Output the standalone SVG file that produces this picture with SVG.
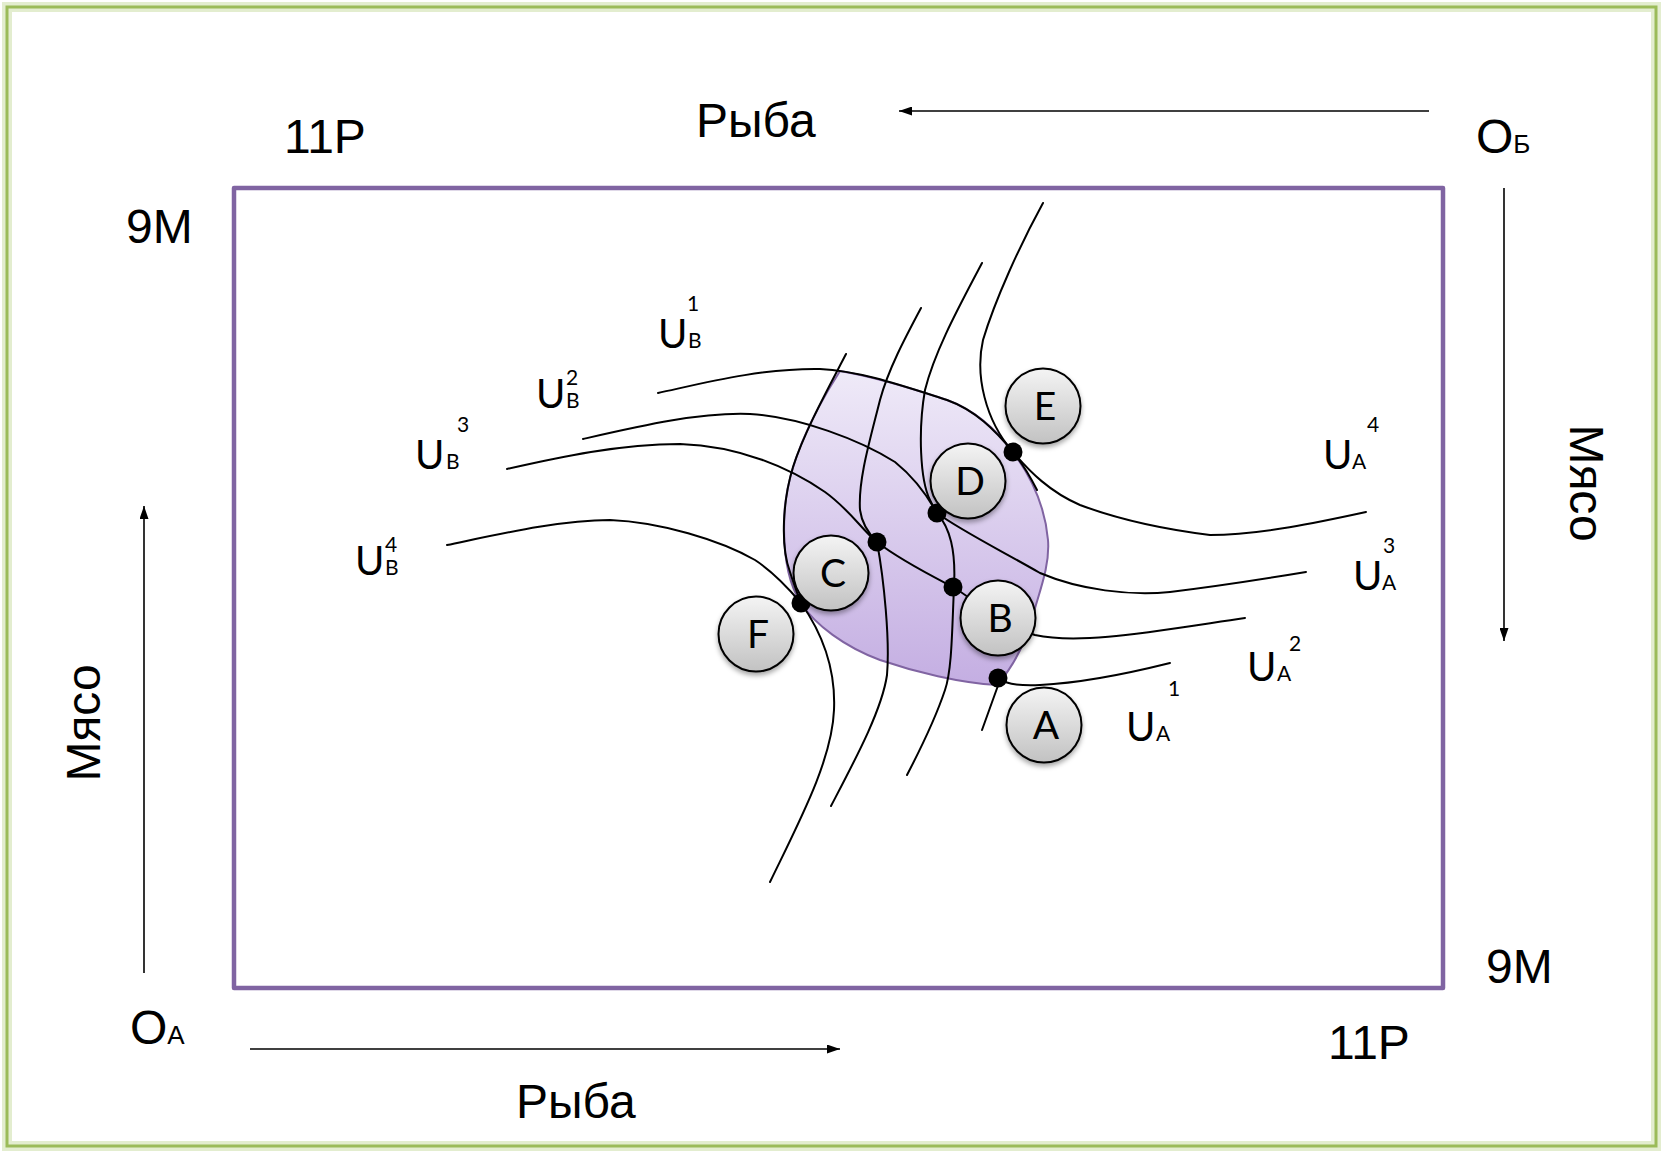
<svg xmlns="http://www.w3.org/2000/svg" width="1662" height="1152" viewBox="0 0 1662 1152">
  <style>
    .lbl { font-family: "Liberation Sans", Arial, sans-serif; font-size: 48px; fill: #000; }
    .sub { font-size: 26px; }
    .u { font-family: Lato, "Open Sans", sans-serif; font-size: 40px; fill: #000; }
    .us { font-family: Lato, "Open Sans", sans-serif; font-size: 21px; fill: #000; }
    .curve { fill: none; stroke: #000; stroke-width: 2; stroke-linecap: round; }
    .axis { fill: none; stroke: #000; stroke-width: 1.6; }
    .node circle { fill: url(#nodeFill); stroke: #000; stroke-width: 2; filter: url(#shadow); }
    .node text { font-family: Lato, "Open Sans", sans-serif; font-size: 39px; fill: #000; text-anchor: middle; }
    .dot { fill: #000; }
  </style>
  <defs>
    <linearGradient id="nodeFill" x1="0" y1="0" x2="0" y2="1">
      <stop offset="0" stop-color="#F4F4F4"/>
      <stop offset="1" stop-color="#C2C2C2"/>
    </linearGradient>
    <linearGradient id="lensFill" x1="0" y1="0" x2="0" y2="1">
      <stop offset="0" stop-color="#EFEAF8"/>
      <stop offset="1" stop-color="#C4AEE2"/>
    </linearGradient>
    <filter id="shadow" x="-30%" y="-30%" width="160%" height="170%">
      <feDropShadow dx="0" dy="3" stdDeviation="2.5" flood-color="#000" flood-opacity="0.35"/>
    </filter>
    <marker id="arrow" markerUnits="userSpaceOnUse" markerWidth="13" markerHeight="9" viewBox="0 0 13 9" refX="13" refY="4.5" orient="auto">
      <path d="M0,0 L13,4.5 L0,9 z" fill="#000"/>
    </marker>
  </defs>

  <!-- page frame -->
  <rect x="0" y="0" width="1662" height="1152" fill="#fff"/>
  <rect x="7" y="7" width="1649" height="1139" fill="none" stroke="#E3EDCF" stroke-width="10"/>
  <rect x="7" y="7" width="1649" height="1139" fill="none" stroke="#9BBB59" stroke-width="3"/>

  <!-- Edgeworth box -->
  <rect id="box" x="234" y="188" width="1209" height="800" fill="none" stroke="#8064A2" stroke-width="4.5" stroke-linejoin="round"/>

  <!-- mutually advantageous region -->
  <path id="lens" d="M840,371 C870,376 905,386 947,400 C975,410 995,428 1013,452 C1030,475 1045,505 1048,540 C1050,565 1040,590 1033,615 C1025,645 1012,668 997,685 C960,683 915,672 880,660 C845,647 815,625 801,603 C786,580 782,545 785,505 C790,460 815,410 840,371 Z" fill="url(#lensFill)" stroke="#8064A2" stroke-width="2"/>

  <!-- axes -->
  <g id="axes">
    <line class="axis" x1="1429" y1="111" x2="899" y2="111" marker-end="url(#arrow)"/>
    <line class="axis" x1="1504" y1="188" x2="1504" y2="641" marker-end="url(#arrow)"/>
    <line class="axis" x1="144" y1="973" x2="144" y2="506" marker-end="url(#arrow)"/>
    <line class="axis" x1="250" y1="1049" x2="840" y2="1049" marker-end="url(#arrow)"/>
  </g>

  <!-- indifference curves -->
  <g id="connectors">
    <path class="curve" d="M658,393 C700,384 760,368 820,369 C860,371 900,385 947,400 C975,410 995,430 1013,452 C1022,463 1030,476 1037,490"/>
    <path class="curve" d="M583,439 C640,426 700,412 750,414 C800,417 860,440 895,462 C915,478 928,497 937,513 C960,530 1000,550 1040,573 C1080,590 1130,596 1170,592 C1220,586 1270,578 1306,572"/>
    <path class="curve" d="M507,469 C560,457 620,444 680,444 C740,446 790,468 825,492 C850,510 862,530 877,542 C900,560 930,575 953,587 C975,600 1000,625 1035,635 C1080,645 1150,632 1245,618"/>
    <path class="curve" d="M447,545 C500,534 560,520 610,520 C660,522 720,540 755,560 C775,573 790,590 801,603 C820,630 836,665 834,710 C832,760 800,820 770,882"/>
    <path class="curve" d="M846,354 C830,385 805,430 793,467 C783,500 780,545 790,572 C794,585 798,595 801,603"/>
    <path class="curve" d="M921,308 C905,338 888,370 880,400 C870,440 858,480 860,510 C862,525 870,535 877,542 C884,580 890,640 887,675 C882,710 855,760 831,806"/>
    <path class="curve" d="M982,263 C960,305 935,350 925,390 C918,430 920,480 930,500 C934,508 935,510 937,513 C950,528 956,550 954,587 C952,630 952,670 945,690 C935,720 920,750 907,775"/>
    <path class="curve" d="M1043,203 C1020,245 995,300 983,340 C975,375 985,420 1013,452 C1030,472 1050,492 1080,505 C1120,520 1170,530 1210,535 C1260,535 1320,522 1366,512"/>
    <path class="curve" d="M998,678 C1005,684 1020,686 1040,685 C1080,683 1130,673 1170,663"/>
    <path class="curve" d="M1000,680 L982,730"/>
  </g>

  <!-- tangency points -->
  <g id="points">
    <circle class="dot" cx="1013" cy="452" r="9.5"/>
    <circle class="dot" cx="937" cy="513" r="9.5"/>
    <circle class="dot" cx="877" cy="542" r="9.5"/>
    <circle class="dot" cx="953" cy="587" r="9.5"/>
    <circle class="dot" cx="801" cy="603" r="9.5"/>
    <circle class="dot" cx="998" cy="678" r="9.5"/>
  </g>

  <!-- labelled allocations -->
  <g id="node-E" class="node"><circle cx="1043" cy="406" r="37.5"/><text x="1045" y="420">E</text></g>
  <g id="node-D" class="node"><circle cx="968" cy="481" r="37.5"/><text x="970" y="495">D</text></g>
  <g id="node-C" class="node"><circle cx="831" cy="573" r="37.5"/><text x="833" y="587">C</text></g>
  <g id="node-F" class="node"><circle cx="756" cy="634" r="37.5"/><text x="758" y="648">F</text></g>
  <g id="node-B" class="node"><circle cx="998" cy="618" r="37.5"/><text x="1000" y="632">B</text></g>
  <g id="node-A" class="node"><circle cx="1044" cy="725" r="37.5"/><text x="1046" y="739">A</text></g>

  <!-- curve labels -->
  <g id="curve-labels">
    <text class="u" x="658" y="348">U</text><text class="us" x="688" y="348">B</text><text class="us" x="687" y="311">1</text>
    <text class="u" x="536" y="408">U</text><text class="us" x="566" y="408">B</text><text class="us" x="566" y="385">2</text>
    <text class="u" x="415" y="469">U</text><text class="us" x="446" y="469">B</text><text class="us" x="457" y="432">3</text>
    <text class="u" x="355" y="575">U</text><text class="us" x="385" y="575">B</text><text class="us" x="385" y="552">4</text>
    <text class="u" x="1323" y="469">U</text><text class="us" x="1352" y="469">A</text><text class="us" x="1367" y="432">4</text>
    <text class="u" x="1353" y="590">U</text><text class="us" x="1382" y="590">A</text><text class="us" x="1383" y="553">3</text>
    <text class="u" x="1247" y="681">U</text><text class="us" x="1277" y="681">A</text><text class="us" x="1289" y="651">2</text>
    <text class="u" x="1126" y="741">U</text><text class="us" x="1156" y="741">A</text><text class="us" x="1168" y="696">1</text>
  </g>

  <!-- axis labels -->
  <g id="axis-labels">
    <text class="lbl" x="284" y="153">11Р</text>
    <text class="lbl" x="126" y="243">9М</text>
    <text class="lbl" x="696" y="137">Рыба</text>
    <text class="lbl" x="1476" y="153">O<tspan class="sub" font-size="24">Б</tspan></text>
    <text class="lbl" x="1486" y="983">9М</text>
    <text class="lbl" x="1328" y="1059">11Р</text>
    <text class="lbl" x="130" y="1044">O<tspan class="sub" font-size="27">A</tspan></text>
    <text class="lbl" x="516" y="1118">Рыба</text>
    <text class="lbl" text-anchor="middle" transform="translate(1570,483) rotate(90)">Мясо</text>
    <text class="lbl" text-anchor="middle" transform="translate(100,723) rotate(-90)">Мясо</text>
  </g>
</svg>
